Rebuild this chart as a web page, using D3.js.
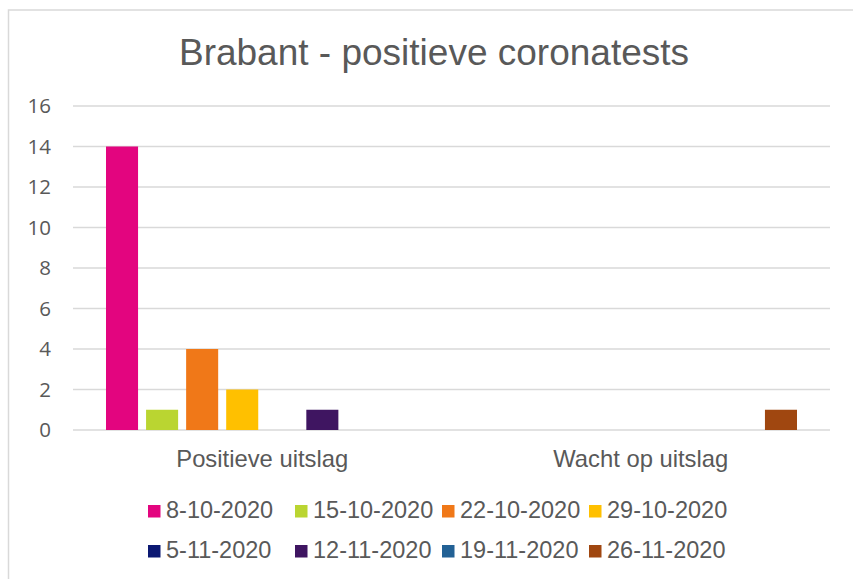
<!DOCTYPE html>
<html>
<head>
<meta charset="utf-8">
<script src="https://cdn.jsdelivr.net/npm/d3@7"></script>
<style>
  body { margin: 0; background: #fff; }
  svg { display: block; }
</style>
</head>
<body>
<div class="container"></div>
<script>
// data
var categories = ["Positieve uitslag", "Wacht op uitslag"];
var weeks = ["8-10-2020", "15-10-2020", "22-10-2020", "29-10-2020",
             "5-11-2020", "12-11-2020", "19-11-2020", "26-11-2020"];
var positief = [14, 1, 4, 2, 0, 1, 0, 0];
var wacht = [0, 0, 0, 0, 0, 0, 0, 1];
var colors = ["#E3057F", "#BAD531", "#F07818", "#FFC000",
              "#0B1872", "#3F1561", "#226195", "#A04710"];
var yTicks = [0, 2, 4, 6, 8, 10, 12, 14, 16];

var width = 853, height = 579;
var textColor = "#595959";
var gridColor = "#d9d9d9";

var svg = d3.select(".container").append("svg")
    .attr("width", width).attr("height", height);

// chart border (cut off at right/bottom like the screenshot)
svg.append("rect")
    .attr("x", 8.5).attr("y", 10)
    .attr("width", 900).attr("height", 700)
    .attr("fill", "#fff")
    .attr("stroke", gridColor)
    .attr("stroke-width", 1.5);

svg.append("text")
    .attr("x", 434).attr("y", 65)
    .attr("text-anchor", "middle")
    .attr("font-family", "Liberation Sans, Arial, sans-serif")
    .attr("font-size", 37)
    .attr("fill", textColor)
    .text("Brabant - positieve coronatests");

var plot = {left: 73, right: 830, top: 106, bottom: 430};

var y = d3.scaleLinear().domain([0, 16]).range([plot.bottom, plot.top]);
var x0 = d3.scaleBand().domain(categories).range([plot.left, plot.right]).padding(0);
var x1 = d3.scaleBand().domain(weeks)
    .range([33, x0.bandwidth() - 33])
    .paddingInner(0.2).paddingOuter(0);

// gridlines
svg.append("g").selectAll("line")
    .data(yTicks)
    .enter().append("line")
    .attr("x1", plot.left).attr("x2", plot.right)
    .attr("y1", function(d){ return y(d); })
    .attr("y2", function(d){ return y(d); })
    .attr("stroke", gridColor)
    .attr("stroke-width", 1.5);

// y axis labels
var yAxis = d3.axisLeft(y).tickValues(yTicks).tickSize(0).tickPadding(0);
var yg = svg.append("g")
    .attr("transform", "translate(51,0)")
    .call(yAxis);
yg.select(".domain").remove();
yg.selectAll("text")
    .attr("font-family", "Open Sans, sans-serif")
    .attr("font-size", 20.5)
    .attr("fill", textColor);

// bars
var rows = [positief, wacht];
var bars = [];
categories.forEach(function(c, ci){
    weeks.forEach(function(w, wi){
        bars.push({cat: c, week: w, value: rows[ci][wi], color: colors[wi]});
    });
});

svg.append("g").selectAll("rect")
    .data(bars.filter(function(d){ return d.value > 0; }))
    .enter().append("rect")
    .attr("x", function(d){ return x0(d.cat) + x1(d.week); })
    .attr("y", function(d){ return y(d.value); })
    .attr("width", x1.bandwidth())
    .attr("height", function(d){ return y(0) - y(d.value); })
    .attr("fill", function(d){ return d.color; });

// category labels
var xAxis = d3.axisBottom(x0).tickSize(0).tickPadding(0);
var xg = svg.append("g")
    .attr("transform", "translate(0,450)")
    .call(xAxis);
xg.select(".domain").remove();
xg.selectAll("text")
    .attr("font-family", "Liberation Sans, Arial, sans-serif")
    .attr("font-size", 23.8)
    .attr("fill", textColor)
    .attr("dy", "0.7em");

// legend, 4 per row
var legend = svg.append("g").selectAll("g")
    .data(weeks)
    .enter().append("g")
    .attr("transform", function(d, i){
        return "translate(" + (148 + (i % 4) * 147) + "," + (518 + Math.floor(i / 4) * 40) + ")";
    });
legend.append("rect")
    .attr("x", 0).attr("y", -13)
    .attr("width", 12.5).attr("height", 12.5)
    .attr("fill", function(d, i){ return colors[i]; });
legend.append("text")
    .attr("x", 18).attr("y", 0)
    .attr("font-family", "Liberation Sans, Arial, sans-serif")
    .attr("font-size", 23.5)
    .attr("fill", textColor)
    .text(function(d){ return d; });
</script>
</body>
</html>
